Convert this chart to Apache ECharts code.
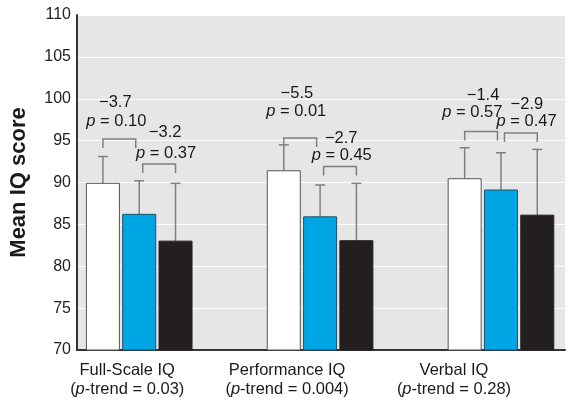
<!DOCTYPE html>
<html>
<head>
<meta charset="utf-8">
<script src="https://cdn.jsdelivr.net/npm/echarts@6/dist/echarts.min.js"></script>
<style>html,body{margin:0;padding:0;background:#fff}#c{width:571px;height:410px}</style>
</head>
<body>
<div id="c"></div>
<script>
// ---- data ----
const groups = ['Full-Scale IQ', 'Performance IQ', 'Verbal IQ'];
const trendP = ['0.03', '0.004', '0.28'];
const lowMean = [89.9, 91.4, 90.45];
const midMean = [86.2, 85.9, 89.1];
const highMean = [83.0, 83.05, 86.1];
const lowUpper = [93.1, 94.5, 94.15];
const midUpper = [90.2, 89.7, 93.55];
const highUpper = [89.9, 89.9, 93.95];
// comparisons: [group, fromBar, toBar, bracketLevel, difference, p]
const comparisons = [
  [0, 0, 1, 95.2, '\u22123.7', '0.10'],
  [0, 1, 2, 92.2, '\u22123.2', '0.37'],
  [1, 0, 1, 95.3, '\u22125.5', '0.01'],
  [1, 1, 2, 91.9, '\u22122.7', '0.45'],
  [2, 0, 1, 96.1, '\u22121.4', '0.57'],
  [2, 1, 2, 95.9, '\u22122.9', '0.47']
];
const yTicks = [70, 75, 80, 85, 90, 95, 100, 105, 110];

// ---- layout ----
const FONT = '"Liberation Sans", Arial, sans-serif';
const FS = 16.5;
const BAR_W = 33, BAR_STEP = 36.3, CAP = 5, LEG = 9;
// [p-row dx, p-row height above bracket, diff-row dx, gap between rows]
const labelShift = [
  [-3, 17.6, -4, 19],
  [7, 10.3, 6, 21],
  [-4, 26.3, -3.3, 18.4],
  [1.7, 10.7, 1.2, 17.7],
  [-8.7, 19, 2, 16.6],
  [5.7, 11.6, 6, 16.7]
];
const catShift = [-12, -33, -47];
const fills = ['#ffffff', '#00a6e4', '#231f20'];
const strokes = ['#555555', '#1f4f66', '#231f20'];

const chart = echarts.init(document.getElementById('c'), null, {renderer: 'canvas'});

function barSeries(j, means, uppers) {
  return {
    type: 'custom',
    clip: false,
    data: means.map((v, i) => [i, v, uppers[i]]),
    renderItem: function (params, api) {
      const g = api.value(0);
      const base = api.coord([g, yTicks[0]]);
      const top = api.coord([g, api.value(1)]);
      const et = api.coord([g, api.value(2)]);
      const cx = base[0] + (j - 1) * BAR_STEP;
      const es = {stroke: '#808080', lineWidth: 1.5};
      return {type: 'group', children: [
        {type: 'line', shape: {x1: cx, y1: top[1], x2: cx, y2: et[1]}, style: es},
        {type: 'line', shape: {x1: cx - CAP, y1: et[1], x2: cx + CAP, y2: et[1]}, style: es},
        {type: 'rect', shape: {x: cx - BAR_W / 2, y: top[1], width: BAR_W, height: base[1] - top[1]},
          style: {fill: fills[j], stroke: strokes[j], lineWidth: 1}}
      ]};
    }
  };
}

const option = {
  animation: false,
  grid: {left: 75, right: 6, top: 15, bottom: 60, show: true, backgroundColor: '#e6e6e6', borderWidth: 0},
  xAxis: {
    type: 'value', min: -0.344, max: 2.354,
    axisLine: {show: true, onZero: false, lineStyle: {color: '#333', width: 2}},
    axisTick: {show: false}, axisLabel: {show: false}, splitLine: {show: false}
  },
  yAxis: {
    type: 'value', min: 70, max: 110, interval: 5,
    name: 'Mean IQ score', nameLocation: 'middle', nameGap: 47,
    nameTextStyle: {fontFamily: FONT, fontWeight: 'bold', fontSize: 22, color: '#1a1a1a'},
    axisLine: {show: true, onZero: false, lineStyle: {color: '#333', width: 2}},
    axisTick: {show: false},
    axisLabel: {fontFamily: FONT, fontSize: 16, color: '#222', margin: 6},
    splitLine: {show: true, lineStyle: {color: '#ffffff', width: 1.2}}
  },
  series: [
    barSeries(0, lowMean, lowUpper),
    barSeries(1, midMean, midUpper),
    barSeries(2, highMean, highUpper),
    {
      type: 'custom', clip: false, z: 5,
      data: comparisons.map(c => [c[0], c[1], c[2], c[3]]),
      renderItem: function (params, api) {
        const c = comparisons[params.dataIndex];
        const L = labelShift[params.dataIndex];
        const g = api.value(0), a = api.value(1), b = api.value(2);
        const p = api.coord([g, api.value(3)]);
        const x1 = p[0] + (a - 1) * BAR_STEP + (a === 1 ? 3.5 : 0);
        const x2 = p[0] + (b - 1) * BAR_STEP - (b === 1 ? 3.5 : 0);
        const y = p[1];
        const s = {stroke: '#808080', lineWidth: 1.5, fill: null};
        const mx = (x1 + x2) / 2;
        const py = y - L[1];
        const ts = {fontFamily: FONT, fontSize: FS, fill: '#1a1a1a', align: 'center', verticalAlign: 'middle'};
        return {type: 'group', children: [
          {type: 'polyline', shape: {points: [[x1, y + LEG], [x1, y], [x2, y], [x2, y + LEG]]}, style: s},
          {type: 'text', style: Object.assign({}, ts, {x: mx + L[0], y: py, text: '{i|p} = ' + c[5],
            rich: {i: {fontStyle: 'italic', fontFamily: FONT, fontSize: FS, fill: '#1a1a1a'}}})},
          {type: 'text', style: Object.assign({}, ts, {x: mx + L[2], y: py - L[3], text: c[4]})}
        ]};
      }
    },
    {
      type: 'custom', clip: false, z: 5,
      data: groups.map((g, i) => [i]),
      renderItem: function (params, api) {
        const i = params.dataIndex;
        const p = api.coord([api.value(0), yTicks[0]]);
        const x = p[0] + catShift[i];
        const ts = {fontFamily: FONT, fontSize: FS, fill: '#1a1a1a', align: 'center', verticalAlign: 'middle'};
        return {type: 'group', children: [
          {type: 'text', style: Object.assign({}, ts, {x: x, y: p[1] + 20, text: groups[i]})},
          {type: 'text', style: Object.assign({}, ts, {x: x, y: p[1] + 39.5, text: '({i|p}-trend = ' + trendP[i] + ')',
            rich: {i: {fontStyle: 'italic', fontFamily: FONT, fontSize: FS, fill: '#1a1a1a'}}})}
        ]};
      }
    }
  ]
};
chart.setOption(option);
</script>
</body>
</html>
